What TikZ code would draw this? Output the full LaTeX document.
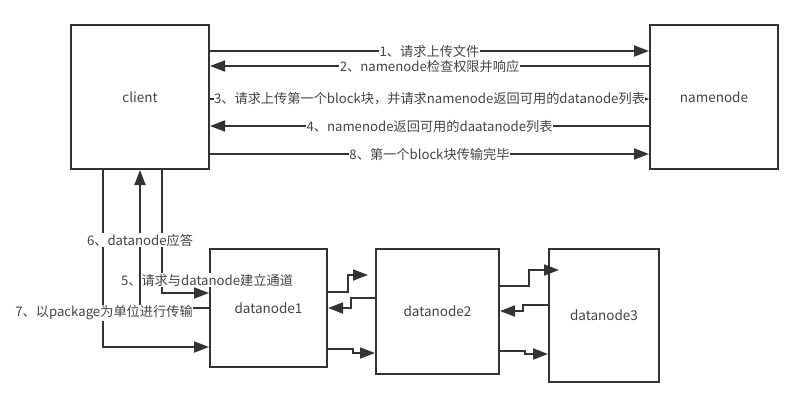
\documentclass[tikz,border=0pt]{standalone}
\usepackage{fontspec}
\setmainfont{Noto Sans CJK SC}
\usetikzlibrary{arrows.meta,calc}
\definecolor{ink}{HTML}{333333}
\definecolor{txt}{HTML}{444444}
\tikzset{
  box/.style={draw=ink, line width=2pt, fill=white, inner sep=0pt, text=txt, font=\fontsize{13.5}{15}\selectfont},
  conn/.style={draw=ink, line width=1.8pt, -{Triangle[length=15pt,width=11pt]}},
  smallconn/.style={draw=ink, line width=1.8pt, -{Triangle[length=6pt,width=5pt]}},
  lab/.style={fill=white, inner sep=0.5pt, text=txt, font=\fontsize{13.2}{15}\selectfont},
}
\begin{document}
\begin{tikzpicture}[x=1pt,y=-1pt]
\useasboundingbox[fill=white] (0,0) rectangle (803,408);
\node[box, minimum width=138pt, minimum height=144pt] (client) at (140,97) {client};
\node[box, minimum width=128pt, minimum height=144pt] (namenode) at (714,97) {namenode};
\node[box, minimum width=117pt, minimum height=118pt] (dn1) at (268.5,308) {datanode1};
\node[box, minimum width=123pt, minimum height=125pt] (dn2) at (437.5,311.5) {datanode2};
\node[box, minimum width=110pt, minimum height=133pt] (dn3) at (604,315.5) {datanode3};
\coordinate (t12) at (368,275);
\coordinate (t23) at (559,270);

% client <-> namenode
\draw[conn] (client.east |- 0,51) -- node[lab] (l1) {1、请求上传文件} (namenode.west |- 0,51);
\draw[conn] (namenode.west |- 0,66) -- node[lab] (l2) {2、namenode检查权限并响应} (client.east |- 0,66);
\draw[smallconn] (client.east |- 0,99) -- node[lab] (l3) {3、请求上传第一个block块，并请求namenode返回可用的datanode列表} (namenode.west |- 0,99);
\draw[conn] (namenode.west |- 0,126) -- node[lab] (l4) {4、namenode返回可用的daatanode列表} (client.east |- 0,126);
\draw[conn] (client.east |- 0,154) -- node[lab] (l8) {8、第一个block块传输完毕} (namenode.west |- 0,154);

% client <-> datanode1
\draw[conn] (client.south -| 103,0) |- (dn1.west |- 0,347);
\draw[conn] (client.south -| 162,0) |- (dn1.west |- 0,293);
\node[lab] (l5) at (207,280) {5、请求与datanode建立通道};
\draw[conn] (dn1.west |- 0,308) -| (client.south -| 140,0);
\node[lab] (l6) at (140,240) {6、datanode应答};
\node[lab] (l7) at (104,313) {7、以package为单位进行传输};

% datanode1 <-> datanode2
\draw[conn] (dn1.east |- 0,292) -- ++(20,0) |- (t12);
\draw[conn] (dn2.west |- 0,298) -- ++(-24,0) |- (dn1.east |- 0,308);
\draw[conn] (dn1.east |- 0,349) -- ++(25,0) |- (dn2.west |- 0,353);

% datanode2 <-> datanode3
\draw[conn] (dn2.east |- 0,286) -- ++(29,0) |- (t23);
\draw[conn] (dn3.west |- 0,305) -- ++(-25,0) |- (dn2.east |- 0,311);
\draw[conn] (dn2.east |- 0,351) -- ++(25,0) |- (dn3.west |- 0,354);
\end{tikzpicture}
\end{document}
